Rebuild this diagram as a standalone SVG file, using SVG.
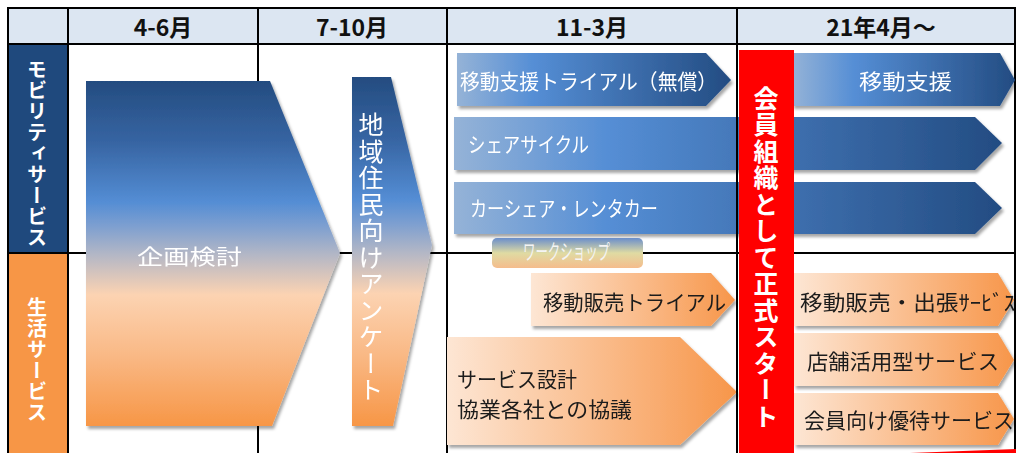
<svg xmlns="http://www.w3.org/2000/svg" width="1016" height="453" viewBox="0 0 1016 453">
<style>
.grid line{stroke:#000;stroke-width:2}
.hdr{font-family:"Noto Sans CJK JP","Noto Sans",sans-serif;font-weight:bold;font-size:23px;fill:#111;text-anchor:middle}
.t{font-family:"Noto Sans CJK JP","Noto Sans",sans-serif;font-size:21px}
.w{fill:#fff}
.k{fill:#1a1a1a}
.vert{writing-mode:vertical-rl;text-anchor:middle;font-family:"Noto Sans CJK JP","Noto Sans",sans-serif}
</style>
<defs>
<linearGradient id="gV" x1="0" y1="0" x2="0" y2="1">
<stop offset="0" stop-color="#244c80"/>
<stop offset="0.18" stop-color="#3765a3"/>
<stop offset="0.35" stop-color="#548dd4"/>
<stop offset="0.42" stop-color="#7d9fd0"/>
<stop offset="0.5" stop-color="#b1b6c6"/>
<stop offset="0.62" stop-color="#fcd3b2"/>
<stop offset="0.8" stop-color="#f9b884"/>
<stop offset="1" stop-color="#f79646"/>
</linearGradient>
<linearGradient id="gB" x1="0" y1="0" x2="1" y2="0">
<stop offset="0" stop-color="#95b3d7"/>
<stop offset="0.28" stop-color="#558ed5"/>
<stop offset="1" stop-color="#234c82"/>
</linearGradient>
<linearGradient id="gO" x1="0" y1="0" x2="1" y2="0">
<stop offset="0" stop-color="#fde6d4"/>
<stop offset="1" stop-color="#f7964a"/>
</linearGradient>
<linearGradient id="gW" x1="0" y1="0" x2="0" y2="1">
<stop offset="0" stop-color="#6a8ecb"/>
<stop offset="0.5" stop-color="#dfdba3"/>
<stop offset="1" stop-color="#f5bc8c"/>
</linearGradient>
<filter id="sh" x="-5%" y="-10%" width="115%" height="130%">
<feDropShadow dx="2" dy="3" stdDeviation="1.8" flood-color="#000" flood-opacity="0.35"/>
</filter>
</defs>
<rect width="1016" height="453" fill="#fff"/>
<g id="header">
<rect x="8" y="8" width="1007" height="36" fill="#dce6f2"/>
<text class="hdr" x="163" y="36">4-6月</text>
<text class="hdr" x="352" y="36">7-10月</text>
<text class="hdr" x="592" y="36">11-3月</text>
<text class="hdr" x="881" y="36">21年4月～</text>
</g>
<g id="lane-mobility">
<rect x="8" y="44" width="60" height="209" fill="#1f497d"/>
<text class="vert w" x="37" y="154" font-size="20" font-weight="bold" letter-spacing="1">モビリティサービス</text>
</g>
<g id="lane-life">
<rect x="8" y="253" width="60" height="200" fill="#f79646"/>
<text class="vert w" x="37" y="360" font-size="20" font-weight="bold" letter-spacing="1">生活サービス</text>
</g>
<g class="grid" id="grid">
<line x1="8" y1="8" x2="1015" y2="8"/>
<line x1="8" y1="44" x2="1015" y2="44"/>
<line x1="8" y1="253" x2="1015" y2="253"/>
<line x1="8" y1="7" x2="8" y2="453"/>
<line x1="68" y1="7" x2="68" y2="453"/>
<line x1="258" y1="7" x2="258" y2="453"/>
<line x1="447" y1="7" x2="447" y2="453"/>
<line x1="1015" y1="7" x2="1015" y2="453"/>
</g>
<g id="plan" filter="url(#sh)">
<polygon points="86,81 270,81 340,253 272,426 86,426" fill="url(#gV)"/>
<text class="t w" x="137" y="264" font-size="26" textLength="105" lengthAdjust="spacingAndGlyphs">企画検討</text>
</g>
<g id="survey" filter="url(#sh)">
<polygon points="352,77 391,77 432,245 393,426 352,426" fill="url(#gV)"/>
<text class="vert w" x="371" y="258" font-size="25" letter-spacing="1.5">地域住民向けアンケート</text>
</g>
<g id="mob-trial" filter="url(#sh)">
<polygon points="457,53 706,53 731,80 706,106 457,106" fill="url(#gB)"/>
<text class="t w" x="460" y="89" font-size="22" textLength="257" lengthAdjust="spacingAndGlyphs">移動支援トライアル（無償）</text>
</g>
<g id="share-cycle" filter="url(#sh)">
<polygon points="454,117 975,117 1002,143 975,170 454,170" fill="url(#gB)"/>
<text class="t w" x="468" y="152" font-size="21" textLength="121" lengthAdjust="spacingAndGlyphs">シェアサイクル</text>
</g>
<g id="car-share" filter="url(#sh)">
<polygon points="454,182 975,182 1002,208 975,234 454,234" fill="url(#gB)"/>
<text class="t w" x="470" y="216" font-size="21" textLength="188" lengthAdjust="spacingAndGlyphs">カーシェア・レンタカー</text>
</g>
<g id="mob-support" filter="url(#sh)">
<polygon points="792,53 1000,53 1015,80 1000,106 792,106" fill="url(#gB)"/>
<text class="t w" x="859" y="89" font-size="23" textLength="93" lengthAdjust="spacingAndGlyphs">移動支援</text>
</g>
<g id="workshop">
<rect x="492" y="238" width="151" height="30" rx="5" fill="url(#gW)"/>
<text class="t" x="523" y="259" font-size="16" fill="#f4f4f4" textLength="87" lengthAdjust="spacingAndGlyphs">ワークショップ</text>
</g>
<g id="sales-trial" filter="url(#sh)">
<polygon points="531,273 711,273 735,300 711,326 531,326" fill="url(#gO)"/>
<text class="t k" x="543" y="310" font-size="22" textLength="183" lengthAdjust="spacingAndGlyphs">移動販売トライアル</text>
</g>
<g id="service-design" filter="url(#sh)">
<polygon points="447,337 680,337 737,392 680,445 447,445" fill="url(#gO)"/>
<text class="t k" x="457" y="387" font-size="22" textLength="120" lengthAdjust="spacingAndGlyphs">サービス設計</text>
<text class="t k" x="457" y="417" font-size="22" textLength="175" lengthAdjust="spacingAndGlyphs">協業各社との協議</text>
</g>
<g id="sales-service" filter="url(#sh)">
<polygon points="794,273 998,273 1014,300 998,326 794,326" fill="url(#gO)"/>
<text class="t k" x="800" y="310" font-size="22" textLength="215" lengthAdjust="spacingAndGlyphs">移動販売・出張ｻｰﾋﾞｽ</text>
</g>
<g id="store-service" filter="url(#sh)">
<polygon points="794,333 998,333 1014,360 998,386 794,386" fill="url(#gO)"/>
<text class="t k" x="807" y="369" font-size="22" textLength="192" lengthAdjust="spacingAndGlyphs">店舗活用型サービス</text>
</g>
<g id="member-service" filter="url(#sh)">
<polygon points="794,393 998,393 1014,419 998,445 794,445" fill="url(#gO)"/>
<text class="t k" x="804" y="428" font-size="22" textLength="210" lengthAdjust="spacingAndGlyphs">会員向け優待サービス</text>
</g>
<g class="grid" id="grid-front">
<line x1="737" y1="7" x2="737" y2="453"/>
</g>
<g id="start">
<rect x="739" y="50" width="55" height="403" fill="#ff0000"/>
<text class="vert w" x="766" y="258" font-size="25" font-weight="bold" letter-spacing="1.5">会員組織として正式スタート</text>
</g>
<g id="red-edge">
<polygon points="910,453 1016,449 1016,453" fill="#ff0000"/>
</g>
</svg>
